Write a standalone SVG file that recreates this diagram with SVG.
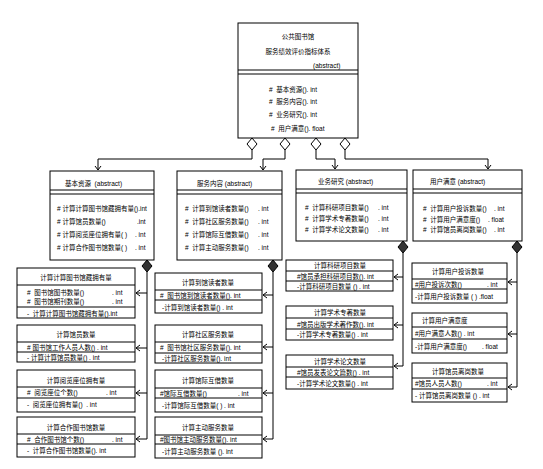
<svg xmlns="http://www.w3.org/2000/svg" width="543" height="469" viewBox="0 0 543 469">
<style>
text{font-family:"Liberation Sans","Noto Sans CJK SC",sans-serif;font-size:6.5px;fill:#000;dominant-baseline:central;white-space:pre}
.c{text-anchor:middle}
.box{fill:#fff;stroke:#000;stroke-width:1}
.ln{stroke:#000;stroke-width:1;fill:none}
.ah{stroke:#000;stroke-width:1;fill:none}
.hd{fill:#fff;stroke:#000;stroke-width:1}
.fd{fill:#333;stroke:#000;stroke-width:1}
</style>
<rect width="543" height="469" fill="#fff"/>

<g id="connectors">
  <!-- top level -->
  <path class="ln" d="M252 150V159H98V170"/>
  <polyline class="ah" points="95,166 98,170 101,166"/>
  <path class="ln" d="M285 150V159H263V170"/>
  <polyline class="ah" points="260,166 263,170 266,166"/>
  <path class="ln" d="M316 150V159H335V169"/>
  <polyline class="ah" points="332,165 335,169 338,165"/>
  <path class="ln" d="M345 150V159H488V169"/>
  <polyline class="ah" points="485,165 488,169 491,165"/>
  <polygon class="hd" points="252,138 257,144 252,150 247,144"/>
  <polygon class="hd" points="285,138 290,144 285,150 280,144"/>
  <polygon class="hd" points="316,138 321,144 316,150 311,144"/>
  <polygon class="hd" points="345,138 350,144 345,150 340,144"/>
  <!-- column 1 -->
  <path class="ln" d="M147 272V439H136M147 293H136M147 348H136M147 393H136"/>
  <polyline class="ah" points="140,290 136,293 140,296"/>
  <polyline class="ah" points="140,345 136,348 140,351"/>
  <polyline class="ah" points="140,390 136,393 140,396"/>
  <polyline class="ah" points="140,436 136,439 140,442"/>
  <polygon class="fd" points="147,260 152,266 147,272 142,266"/>
  <!-- column 2 -->
  <path class="ln" d="M273 272V439H263M273 295H263M273 347H263M273 393H263"/>
  <polyline class="ah" points="267,292 263,295 267,298"/>
  <polyline class="ah" points="267,344 263,347 267,350"/>
  <polyline class="ah" points="267,390 263,393 267,396"/>
  <polyline class="ah" points="267,436 263,439 267,442"/>
  <polygon class="fd" points="273,260 278,266 273,272 268,266"/>
  <!-- column 3 -->
  <path class="ln" d="M403 253V366H394M403 277H394M403 325H394"/>
  <polyline class="ah" points="398,274 394,277 398,280"/>
  <polyline class="ah" points="398,322 394,325 398,328"/>
  <polyline class="ah" points="398,363 394,366 398,369"/>
  <polygon class="fd" points="403,241 408,247 403,253 398,247"/>
  <!-- column 4 -->
  <path class="ln" d="M517 253V387H508M517 282H508M517 334H508"/>
  <polyline class="ah" points="512,279 508,282 512,285"/>
  <polyline class="ah" points="512,331 508,334 512,337"/>
  <polyline class="ah" points="512,384 508,387 512,390"/>
  <polygon class="fd" points="517,241 522,247 517,253 512,247"/>
</g>

<g id="root">
  <rect class="box" x="238" y="23" width="120" height="115"/>
  <path class="ln" d="M238 70H358M238 74H358"/>
  <text class="c" x="298" y="36">公共图书馆</text>
  <text class="c" x="298" y="51">服务绩效评价指标体系</text>
  <text x="313" y="65">(abstract)</text>
  <text x="269" y="89">#  基本资源(). int</text>
  <text x="269" y="101">#  服务内容(). int</text>
  <text x="269" y="114">#  业务研究(). int</text>
  <text x="271" y="128">#  用户满意(). float</text>
</g>

<g id="jbzy">
  <rect class="box" x="50" y="171" width="104" height="89"/>
  <path class="ln" d="M50 190H154M50 194H154"/>
  <text x="65" y="183">基本资源  (abstract)</text>
  <text x="57" y="208"># 计算计算图书馆藏拥有量().int</text>
  <text x="57" y="221"># 计算馆员数量()<tspan x="137">.int</tspan></text>
  <text x="57" y="234"># 计算阅览座位拥有量( )<tspan x="135">. int</tspan></text>
  <text x="57" y="247"># 计算合作图书馆数量( )<tspan x="135">. int</tspan></text>
</g>

<g id="fwnr">
  <rect class="box" x="177" y="171" width="105" height="89"/>
  <path class="ln" d="M177 190H282M177 194H282"/>
  <text x="197" y="183">服务内容 (abstract)</text>
  <text x="185" y="208">#  计算到馆读者数量()<tspan x="258">. int</tspan></text>
  <text x="185" y="221">#  计算社区服务数量()<tspan x="258">. int</tspan></text>
  <text x="185" y="234">#  计算馆际互借数量()<tspan x="258">. int</tspan></text>
  <text x="185" y="247">#  计算主动服务数量()<tspan x="258">. int</tspan></text>
</g>

<g id="ywyj">
  <rect class="box" x="296" y="170" width="111" height="71"/>
  <path class="ln" d="M296 189H407M296 193H407"/>
  <text x="318" y="181">业务研究 (abstract)</text>
  <text x="305" y="207">#  计算科研项目数量()<tspan x="378">. int</tspan></text>
  <text x="305" y="218">#  计算学术专著数量()<tspan x="378">. int</tspan></text>
  <text x="305" y="229">#  计算学术论文数量()<tspan x="378">. int</tspan></text>
</g>

<g id="yhmy">
  <rect class="box" x="413" y="170" width="109" height="71"/>
  <path class="ln" d="M413 189H522M413 193H522"/>
  <text x="430" y="181">用户满意 (abstract)</text>
  <text x="423" y="208">#  计算用户投诉数量()<tspan x="494">. int</tspan></text>
  <text x="423" y="219">#  计算用户满意度()<tspan x="488">. float</tspan></text>
  <text x="423" y="229">#  计算馆员离岗数量()<tspan x="494">. int</tspan></text>
</g>

<!-- column 1 children -->
<g id="c1a">
  <rect class="box" x="17" y="268" width="118" height="50"/>
  <path class="ln" d="M17 285H135M17 307H135"/>
  <text class="c" x="76" y="277">计算计算图书馆藏拥有量</text>
  <text x="27" y="292">#  图书馆图书数量()<tspan x="112">. int</tspan></text>
  <text x="27" y="301">#  图书馆期刊数量()<tspan x="112">. int</tspan></text>
  <text x="27" y="313">-  计算计算图书馆藏拥有量().int</text>
</g>
<g id="c1b">
  <rect class="box" x="17" y="325" width="118" height="37"/>
  <path class="ln" d="M17 342H135M17 352H135"/>
  <text class="c" x="76" y="334">计算馆员数量</text>
  <text x="27" y="347"># 图书馆工作人员人数() . int</text>
  <text x="27" y="357">- 计算计算馆员数量() . int</text>
</g>
<g id="c1c">
  <rect class="box" x="17" y="370" width="118" height="42"/>
  <path class="ln" d="M17 387H135M17 398H135"/>
  <text class="c" x="76" y="380">计算阅览座位拥有量</text>
  <text x="27" y="392">#  阅览座位个数()<tspan x="106">. int</tspan></text>
  <text x="27" y="404">-  阅览座位拥有量()  . int</text>
</g>
<g id="c1d">
  <rect class="box" x="17" y="417" width="118" height="40"/>
  <path class="ln" d="M17 434H135M17 444H135"/>
  <text class="c" x="76" y="427">计算合作图书馆数量</text>
  <text x="27" y="439">#  合作图书馆个数()<tspan x="112">. int</tspan></text>
  <text x="27" y="450">-  计算合作图书馆数量(). int</text>
</g>

<!-- column 2 children -->
<g id="c2a">
  <rect class="box" x="155" y="273" width="107" height="40"/>
  <path class="ln" d="M155 290H262M155 300H262"/>
  <text class="c" x="208" y="282">计算到馆读者数量</text>
  <text x="160" y="295">#  图书馆到馆读者数量(). int</text>
  <text x="162" y="307">-计算到馆读者数量() . int</text>
</g>
<g id="c2b">
  <rect class="box" x="155" y="325" width="107" height="38"/>
  <path class="ln" d="M155 342H262M155 353H262"/>
  <text class="c" x="208" y="334">计算社区服务数量</text>
  <text x="160" y="347">#  图书馆社区服务数量(). int</text>
  <text x="162" y="358">-计算社区服务数量(). int</text>
</g>
<g id="c2c">
  <rect class="box" x="155" y="370" width="107" height="42"/>
  <path class="ln" d="M155 388H262M155 398H262"/>
  <text class="c" x="208" y="380">计算馆际互借数量</text>
  <text x="160" y="393">#馆际互借数量()<tspan x="238">. int</tspan></text>
  <text x="162" y="405">-计算馆际互借数量( ) . int</text>
</g>
<g id="c2d">
  <rect class="box" x="155" y="417" width="107" height="41"/>
  <path class="ln" d="M155 435H262M155 444H262"/>
  <text class="c" x="208" y="427">计算主动服务数量</text>
  <text x="160" y="439">#图书馆主动服务数量(). int</text>
  <text x="162" y="451">-计算主动服务数量 (). int</text>
</g>

<!-- column 3 children -->
<g id="c3a">
  <rect class="box" x="286" y="260" width="107" height="31"/>
  <path class="ln" d="M286 271H393M286 281H393"/>
  <text class="c" x="340" y="265">计算科研项目数量</text>
  <text x="297" y="276">#馆员承担科研项目数(). int</text>
  <text x="297" y="286">-计算科研项目数量 () . int</text>
</g>
<g id="c3b">
  <rect class="box" x="286" y="306" width="107" height="34"/>
  <path class="ln" d="M286 318H393M286 329H393"/>
  <text class="c" x="340" y="312">计算学术专著数量</text>
  <text x="297" y="324">#馆员出版学术著作数(). int</text>
  <text x="297" y="334">-计算学术专著数量() . int</text>
</g>
<g id="c3c">
  <rect class="box" x="286" y="355" width="107" height="34"/>
  <path class="ln" d="M286 367H393M286 377H393"/>
  <text class="c" x="340" y="361">计算学术论文数量</text>
  <text x="297" y="372">#馆员发表论文篇数() . int</text>
  <text x="297" y="383">-计算学术论文数量() . int</text>
</g>

<!-- column 4 children -->
<g id="c4a">
  <rect class="box" x="412" y="263" width="95" height="40"/>
  <path class="ln" d="M412 279H507M412 289H507"/>
  <text x="432" y="271">计算用户投诉数量</text>
  <text x="415" y="284">#用户投诉次数()<tspan x="487">. int</tspan></text>
  <text x="415" y="296">-计算用户投诉数量 ( ) .float</text>
</g>
<g id="c4b">
  <rect class="box" x="412" y="313" width="95" height="40"/>
  <path class="ln" d="M412 327H507M412 339H507"/>
  <text x="422" y="320">计算用户满意度</text>
  <text x="415" y="333">#用户满意人数() . int</text>
  <text x="415" y="346">-计算用户满意度()<tspan x="482">. float</tspan></text>
</g>
<g id="c4c">
  <rect class="box" x="412" y="363" width="95" height="39"/>
  <path class="ln" d="M412 378H507M412 389H507"/>
  <text x="432" y="371">计算馆员离岗数量</text>
  <text x="415" y="383">#馆员人员人数()<tspan x="487">. int</tspan></text>
  <text x="415" y="395">- 计算馆员离岗数量 () . int</text>
</g>
</svg>
